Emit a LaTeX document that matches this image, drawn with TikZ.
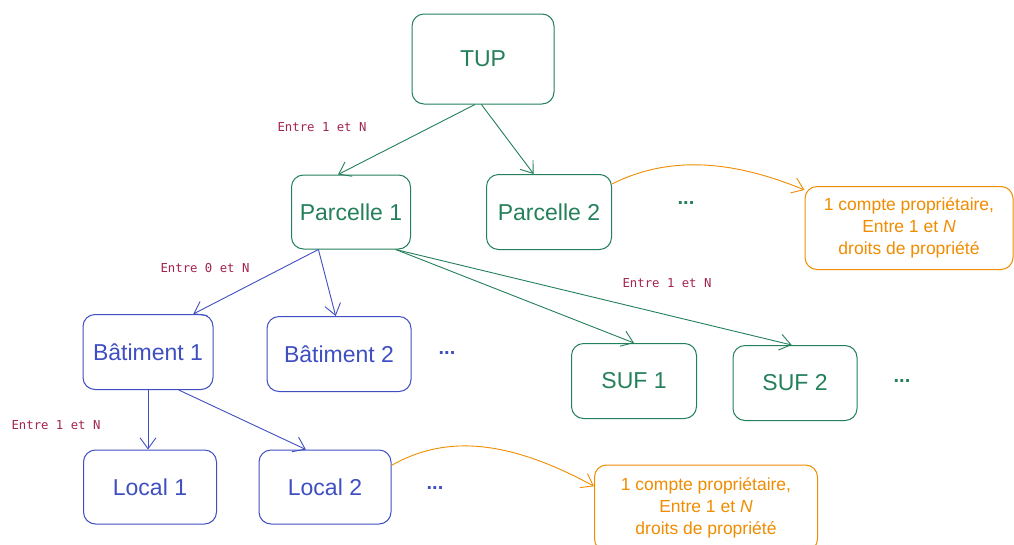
\documentclass[tikz,border=0pt]{standalone}
\usepackage{fontspec}
\setmainfont{Liberation Sans}
\newfontfamily\labelfont{DejaVu Sans Mono}
\usetikzlibrary{arrows.meta}
\definecolor{cgreen}{HTML}{24805A}
\definecolor{cblue}{HTML}{3F4FC2}
\definecolor{corange}{HTML}{F08C00}
\definecolor{clabel}{HTML}{A3244F}
\tikzset{
  box/.style={draw, rounded corners=12pt, line width=1pt, align=center, inner sep=0pt, font=\fontsize{23}{26}\selectfont},
  gbox/.style={box, draw=cgreen, text=cgreen},
  bbox/.style={box, draw=cblue, text=cblue},
  obox/.style={box, draw=corange, text=corange, font=\fontsize{17.5}{22}\selectfont},
  lab/.style={text=clabel, font=\labelfont\fontsize{12.3}{14}\selectfont},
  dots/.style={font=\fontsize{20}{20}\selectfont\bfseries},
  conn/.style={line width=0.9pt, -{Straight Barb[length=11pt,width=16pt]}},
}
\begin{document}
\begin{tikzpicture}[x=1pt,y=-1pt]
\useasboundingbox (0,0) rectangle (1014,544);
\fill[white] (0,0) rectangle (1014,544);
% nodes
\node[gbox, minimum width=142pt, minimum height=90pt] (tup) at (483,59) {TUP};
\node[gbox, minimum width=119pt, minimum height=74pt] (p1) at (351,212) {Parcelle 1};
\node[gbox, minimum width=125pt, minimum height=75pt] (p2) at (549,212) {Parcelle 2};
\node[obox, minimum width=208pt, minimum height=83pt] (o1) at (909,228) {1 compte propriétaire,\\Entre 1 et \textit{N}\\droits de propriété};
\node[bbox, minimum width=130pt, minimum height=75pt] (b1) at (148,352) {Bâtiment 1};
\node[bbox, minimum width=144pt, minimum height=75pt] (b2) at (339,354) {Bâtiment 2};
\node[bbox, minimum width=133pt, minimum height=74pt] (l1) at (150,487) {Local 1};
\node[bbox, minimum width=132pt, minimum height=74pt] (l2) at (325,487) {Local 2};
\node[gbox, minimum width=125pt, minimum height=75pt] (s1) at (634,381) {SUF 1};
\node[gbox, minimum width=124pt, minimum height=75pt] (s2) at (795,383) {SUF 2};
\node[obox, minimum width=223pt, minimum height=86pt] (o2) at (706,508) {1 compte propriétaire,\\Entre 1 et \textit{N}\\droits de propriété};
% dots
\node[dots, text=cgreen] (d1) at (686,203) {...};
\node[dots, text=cblue] (d2) at (447,353) {...};
\node[dots, text=cgreen] (d3) at (902,381) {...};
\node[dots, text=cblue] (d4) at (435,488) {...};
% labels
\node[lab] (e1) at (322,127) {Entre 1 et N};
\node[lab] (e2) at (205,268) {Entre 0 et N};
\node[lab] (e3) at (667,283) {Entre 1 et N};
\node[lab] (e4) at (56,425) {Entre 1 et N};
% connectors
\draw[conn, cgreen] (tup.260) -- (p1.109);
\draw[conn, cgreen] (tup.268) -- (p2.112);
\draw[conn, corange] (p2.24) .. controls (660,160) and (720,155) .. (o1.160);
\draw[conn, cblue] (p1.229) -- (b1.40);
\draw[conn, cblue] (p1.229) -- (b2.95);
\draw[conn, cgreen] (p1.-40) -- (s1.north);
\draw[conn, cgreen] (p1.-40) -- (s2.95);
\draw[conn, cblue] (b1.south) -- (b1.south |- l1.north);
\draw[conn, cblue] (b1.-51) -- (l2.117);
\draw[conn, corange] (l2.18) .. controls (440,438) and (500,435) .. (o2.169);
\end{tikzpicture}
\end{document}
